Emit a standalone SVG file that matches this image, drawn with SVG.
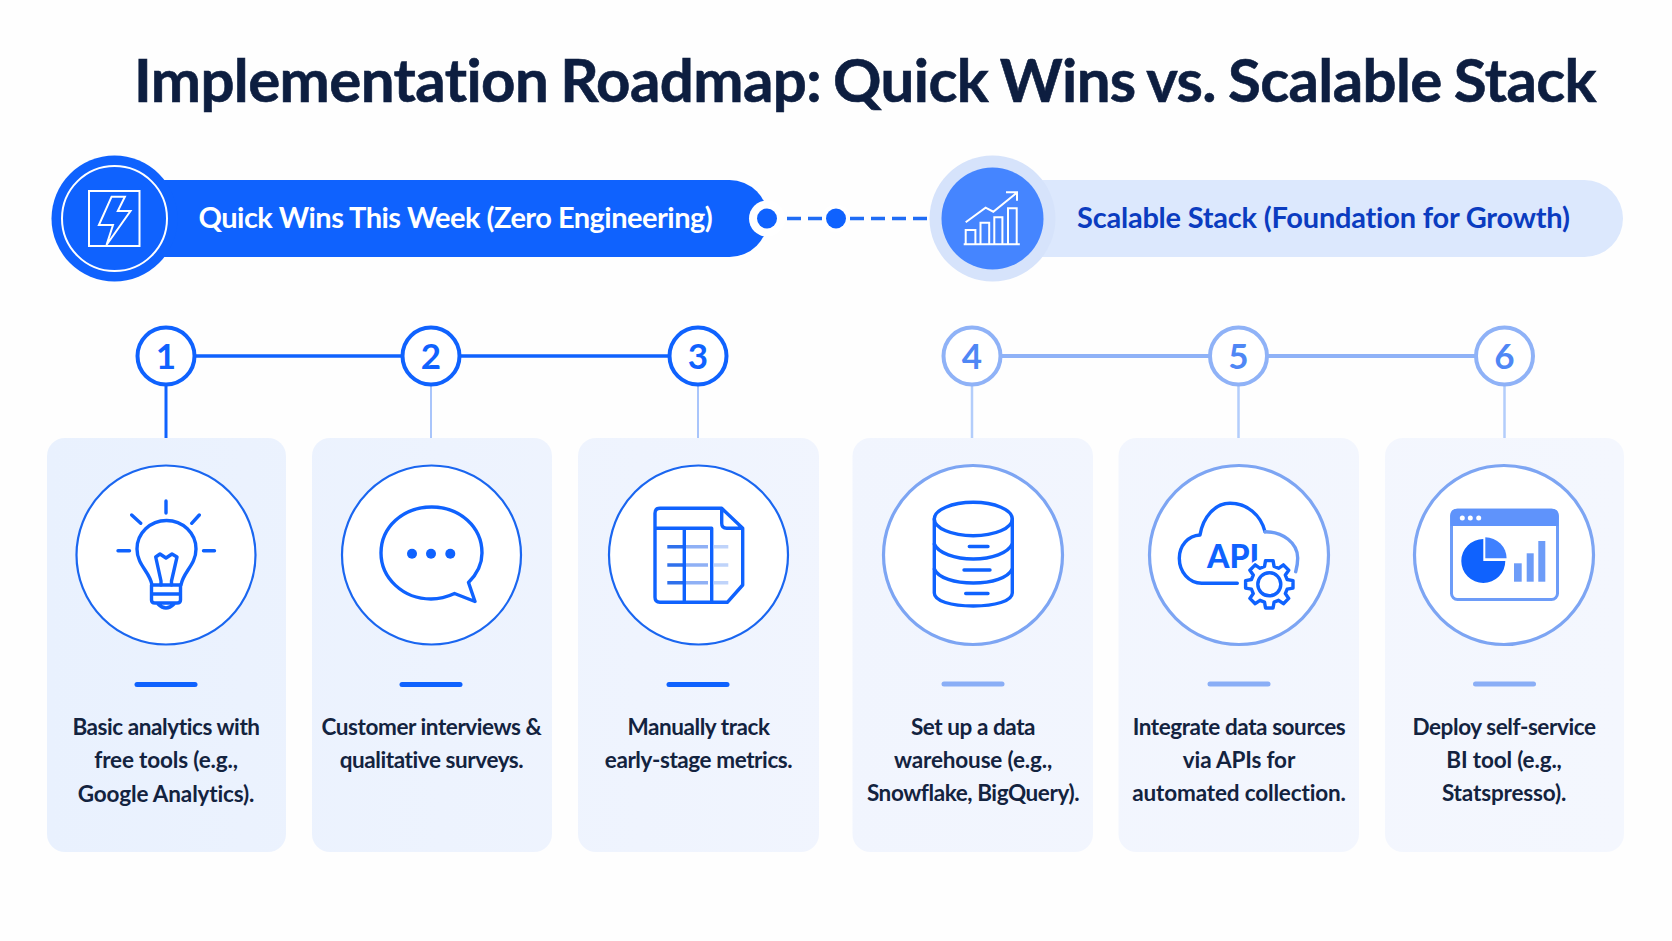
<svg xmlns="http://www.w3.org/2000/svg" width="1672" height="941" viewBox="0 0 1672 941">
<style>
text{font-family:"Lato","Liberation Sans",sans-serif;font-variant-ligatures:none}
.title{font-size:60px;font-weight:700;fill:#0d1e40;letter-spacing:-.6px;word-spacing:-2px;stroke:#0d1e40;stroke-width:.6px}
.hd{font-size:29px;font-weight:700}
.num{font-size:35px;font-weight:700;text-anchor:middle}
.body{font-size:22.5px;font-weight:700;fill:#13233f;text-anchor:middle;letter-spacing:-.42px}
.body.w{letter-spacing:-.15px}
.card{fill:url(#cardFill)}
.disc{fill:#fff;stroke-width:2.2}
.a .disc{stroke:#1a66f0}
.b .disc{stroke:#7da5f3;stroke-width:3.2}
.badge{fill:#fff;stroke-width:4}
.a .badge{stroke:#0f62fe}
.b .badge{stroke:#8fb2f7}
.a .num{fill:#0f62fe}
.b .num{fill:#4f87f5}
.a .bar{fill:#0f62fe}
.b .bar{fill:#8aaef6}
.ic{fill:none;stroke:#0f62fe;stroke-width:3.4;stroke-linecap:round;stroke-linejoin:round}
.wh{fill:none;stroke:#fff;stroke-width:2;stroke-linejoin:miter}
</style>
<defs>
<linearGradient id="cardFill" gradientUnits="userSpaceOnUse" x1="47" y1="0" x2="1624" y2="0">
<stop offset="0" stop-color="#e9f1fe"/><stop offset="0.5" stop-color="#f1f5fe"/><stop offset="1" stop-color="#f4f7fe"/>
</linearGradient>
</defs>
<rect width="1672" height="941" fill="#fefefe"/>
<text id="title" class="title" x="134" y="102">Implementation Roadmap: Quick Wins vs. Scalable Stack</text>

<g id="header-quick">
<rect x="114" y="180" width="654" height="77" rx="38.5" fill="#0f62fe"/>
<circle cx="114.5" cy="218.5" r="63" fill="#0f62fe"/>
<circle cx="114.5" cy="218.5" r="52.5" fill="none" stroke="#fff" stroke-width="2"/>
<rect class="wh" x="89" y="191" width="50.5" height="55"/>
<path class="wh" d="M111.6 196.7H124.9L117.8 211H130.5L106.5 245L113 225H98.9Z"/>
<text class="hd" x="198.5" y="228" fill="#fff" letter-spacing="-.52">Quick Wins This Week (Zero Engineering)</text>
</g>
<g id="header-scalable">
<rect x="992" y="180" width="631" height="77" rx="38.5" fill="#dce8fd"/>
<circle cx="992.5" cy="218.5" r="63" fill="#d6e3fb"/>
<circle cx="992.5" cy="218.5" r="51" fill="#4585ff"/>
<g class="wh">
<path d="M963.7 244.3H1019.8M965.7 244V230H975.4V244M980.5 244V222.7H989.2V244M994.3 244V217.3H1002.4V244M1008 244V208.3H1016.7V244"/>
<path d="M965.7 222.3L985.6 207.7L993.3 211.7L1016.2 193.3M1006 192.3H1017V200.7"/>
</g>
<text class="hd" x="1077" y="228" fill="#0b3cc0" letter-spacing="-.22">Scalable Stack (Foundation for Growth)</text>
</g>

<g id="connectors" fill="none">
<circle cx="767" cy="218.5" r="18" fill="#fff"/>
<path d="M787 218.5H930" stroke="#1f6cf5" stroke-width="3.5" stroke-dasharray="14 7"/>
<circle cx="836" cy="218.5" r="14" fill="#fff"/>
<circle cx="767" cy="218.5" r="10" fill="#0f62fe"/>
<circle cx="836" cy="218.5" r="10" fill="#0f62fe"/>
<path d="M166 356H698" stroke="#0f62fe" stroke-width="3.5"/>
<path d="M166 385V438" stroke="#0f62fe" stroke-width="3"/>
<path d="M431 385V438M698 385V438" stroke="#a9c5fb" stroke-width="2"/>
<path d="M972 356H1504" stroke="#8fb2f7" stroke-width="4"/>
<path d="M972 385V438M1238.5 385V438M1504.5 385V438" stroke="#b3cdfb" stroke-width="2.5"/>
</g>

<g id="step-1" class="a">
<rect class="card" x="47" y="438" width="239" height="414" rx="18"/>
<circle class="badge" cx="166" cy="356" r="28.5"/><text class="num" x="166" y="369">1</text>
<circle class="disc" cx="166" cy="555" r="89.5"/>
<g class="ic">
<path d="M152 585C150 572 137 565 137 549A29.5 28.5 0 0 1 196 549C196 565 183 572 181 585Z"/>
<path d="M161 585L161 581L155.7 557L160 554L166 558L172 554L177 557L171.5 581V585"/>
<path d="M151.5 585V600Q151.5 603 155 603H177Q180.5 603 180.5 600V585M151.5 594H180.5M158 604Q166 612 174 604"/>
<path d="M166 501V513M131.7 515L140.7 523.3M199.3 515L191.7 523.3M118 550.7H129.5M203.5 550.7H214.5"/>
</g>
<rect class="bar" x="134.5" y="682" width="63" height="5" rx="2.5"/>
<text class="body" x="166" y="735">Basic analytics with</text>
<text class="body w" x="166" y="768">free tools (e.g.,</text>
<text class="body w" x="166" y="802">Google Analytics).</text>
</g>

<g id="step-2" class="a">
<rect class="card" x="312" y="438" width="240" height="414" rx="18"/>
<circle class="badge" cx="431" cy="356" r="28.5"/><text class="num" x="431" y="369">2</text>
<circle class="disc" cx="431.5" cy="555" r="89.5"/>
<path class="ic" d="M454.5 593.5C445 598 437 599 431 599C403 599 381 578 381 553C381 527 403 507 431.7 507C460 507 482 527 482 553C482 565 476 575 468.5 582.5L475 601.5Z"/>
<g fill="#0f62fe"><circle cx="412" cy="553.7" r="5"/><circle cx="431" cy="553.7" r="5"/><circle cx="450.3" cy="553.7" r="5"/></g>
<rect class="bar" x="399.5" y="682" width="63" height="5" rx="2.5"/>
<text class="body" x="431.5" y="735">Customer interviews &amp;</text>
<text class="body" x="431.5" y="768">qualitative surveys.</text>
</g>

<g id="step-3" class="a">
<rect class="card" x="578" y="438" width="241" height="414" rx="18"/>
<circle class="badge" cx="698" cy="356" r="28.5"/><text class="num" x="698" y="369">3</text>
<circle class="disc" cx="698.5" cy="555" r="89.5"/>
<g fill="none" stroke-width="3.6">
<path d="M667.3 546.7H684M667.3 565H684M667.3 582.7H684" stroke="#2f70ec"/>
<path d="M686 546.7H708M686 565H708M686 582.7H708" stroke="#8fb0f5"/>
<path d="M714 546.7H728.3M714 565H728.3M714 582.7H728.3" stroke="#bfd3fa"/>
</g>
<path class="ic" d="M721.7 508.3H660Q655 508.3 655 513.3V597.3Q655 602.3 660 602.3H727.3L742.7 585V528.3ZM721.7 508.3V523.3Q721.7 528.3 726.7 528.3H742.7M655 528.3H711.7V602.3M684.3 528.3V602.3"/>
<rect class="bar" x="666.5" y="682" width="63" height="5" rx="2.5"/>
<text class="body" x="698.5" y="735">Manually track</text>
<text class="body" x="698.5" y="768">early-stage metrics.</text>
</g>

<g id="step-4" class="b">
<rect class="card" x="852.5" y="438" width="240.5" height="414" rx="18"/>
<circle class="badge" cx="972" cy="356" r="28.5"/><text class="num" x="972" y="369">4</text>
<circle class="disc" cx="973" cy="555" r="89.5"/>
<g class="ic">
<ellipse cx="973.3" cy="519" rx="39" ry="16.7"/>
<path d="M934.3 519V593C934.3 601 951 606 973.3 606C995 606 1012.3 601 1012.3 593V519"/>
<path d="M934.3 544C938 553 955 559 973.3 559C992 559 1008 553 1012.3 544"/>
<path d="M934.3 569C938 578 955 583 973.3 583C992 583 1008 578 1012.3 569"/>
<path d="M969.3 546.5H988M964 570H990M965.7 593.5H988"/>
</g>
<rect class="bar" x="941.5" y="681.5" width="63" height="5" rx="2.5"/>
<text class="body" x="973" y="735">Set up a data</text>
<text class="body w" x="973" y="768">warehouse (e.g.,</text>
<text class="body" x="973" y="801">Snowflake, BigQuery).</text>
</g>

<g id="step-5" class="b">
<rect class="card" x="1118.5" y="438" width="240.5" height="414" rx="18"/>
<circle class="badge" cx="1238.5" cy="356" r="28.5"/><text class="num" x="1238.5" y="369">5</text>
<circle class="disc" cx="1239" cy="555" r="89.5"/>
<path class="ic" d="M1237.3 583.3H1201.7C1189 583.3 1179.3 572 1179.3 558.3C1179.3 546 1188 535.5 1200 535C1203 517 1215 503.3 1230 503.3C1247 503.3 1261 515 1265 531.7"/>
<path class="ic" style="stroke:#6d9cf5" d="M1265 531.7C1283 531.7 1297.7 543 1297.7 558C1297.7 563 1297 567 1295.7 571.7"/>
<text x="1207" y="567.5" font-size="32" font-weight="900" fill="#0f62fe">API</text>
<circle cx="1269.3" cy="584.3" r="27.5" fill="#fff"/>
<g class="ic" transform="translate(1269.3 584.3)">
<path d="M17.87-4.79L23.7-3.75L23.7 3.75L17.87 4.79L16.02 9.25L19.42 14.11L14.11 19.42L9.25 16.02L4.79 17.87L3.75 23.7L-3.75 23.7L-4.79 17.87L-9.25 16.02L-14.11 19.42L-19.42 14.11L-16.02 9.25L-17.87 4.79L-23.7 3.75L-23.7-3.75L-17.87-4.79L-16.02-9.25L-19.42-14.11L-14.11-19.42L-9.25-16.02L-4.79-17.87L-3.75-23.7L3.75-23.7L4.79-17.87L9.25-16.02L14.11-19.42L19.42-14.11L16.02-9.25Z"/>
<circle r="11.5"/>
</g>
<rect class="bar" x="1207.5" y="681.5" width="63" height="5" rx="2.5"/>
<text class="body" x="1239" y="735">Integrate data sources</text>
<text class="body w" x="1239" y="768">via APIs for</text>
<text class="body w" x="1239" y="801">automated collection.</text>
</g>

<g id="step-6" class="b">
<rect class="card" x="1385" y="438" width="239" height="414" rx="18"/>
<circle class="badge" cx="1504.5" cy="356" r="28.5"/><text class="num" x="1504.5" y="369">6</text>
<circle class="disc" cx="1504" cy="555" r="89.5"/>
<rect x="1451.5" y="510" width="106" height="89.5" rx="6" fill="#fff" stroke="#6d9cf8" stroke-width="3"/>
<path d="M1450.5 526V515Q1450.5 509 1456.5 509H1552.5Q1558.5 509 1558.5 515V526Z" fill="#5f93fb"/>
<g fill="#fff"><circle cx="1462.3" cy="518" r="2.5"/><circle cx="1470.3" cy="518" r="2.5"/><circle cx="1478.7" cy="518" r="2.5"/></g>
<path d="M1483.3 561V539A22 22 0 1 0 1505.3 561Z" fill="#0f62fe"/>
<path d="M1485.3 558.3V537.3A21.3 21 0 0 1 1506.6 558.3Z" fill="#3f80ff"/>
<g fill="#6d9cf8"><rect x="1514" y="563.3" width="7.7" height="18.4"/><rect x="1526.7" y="553.3" width="7" height="28.4"/><rect x="1538.3" y="541" width="7" height="40.7"/></g>
<rect class="bar" x="1473" y="681.5" width="63" height="5" rx="2.5"/>
<text class="body" x="1504" y="735">Deploy self-service</text>
<text class="body w" x="1504" y="768">BI tool (e.g.,</text>
<text class="body w" x="1504" y="801">Statspresso).</text>
</g>
</svg>
